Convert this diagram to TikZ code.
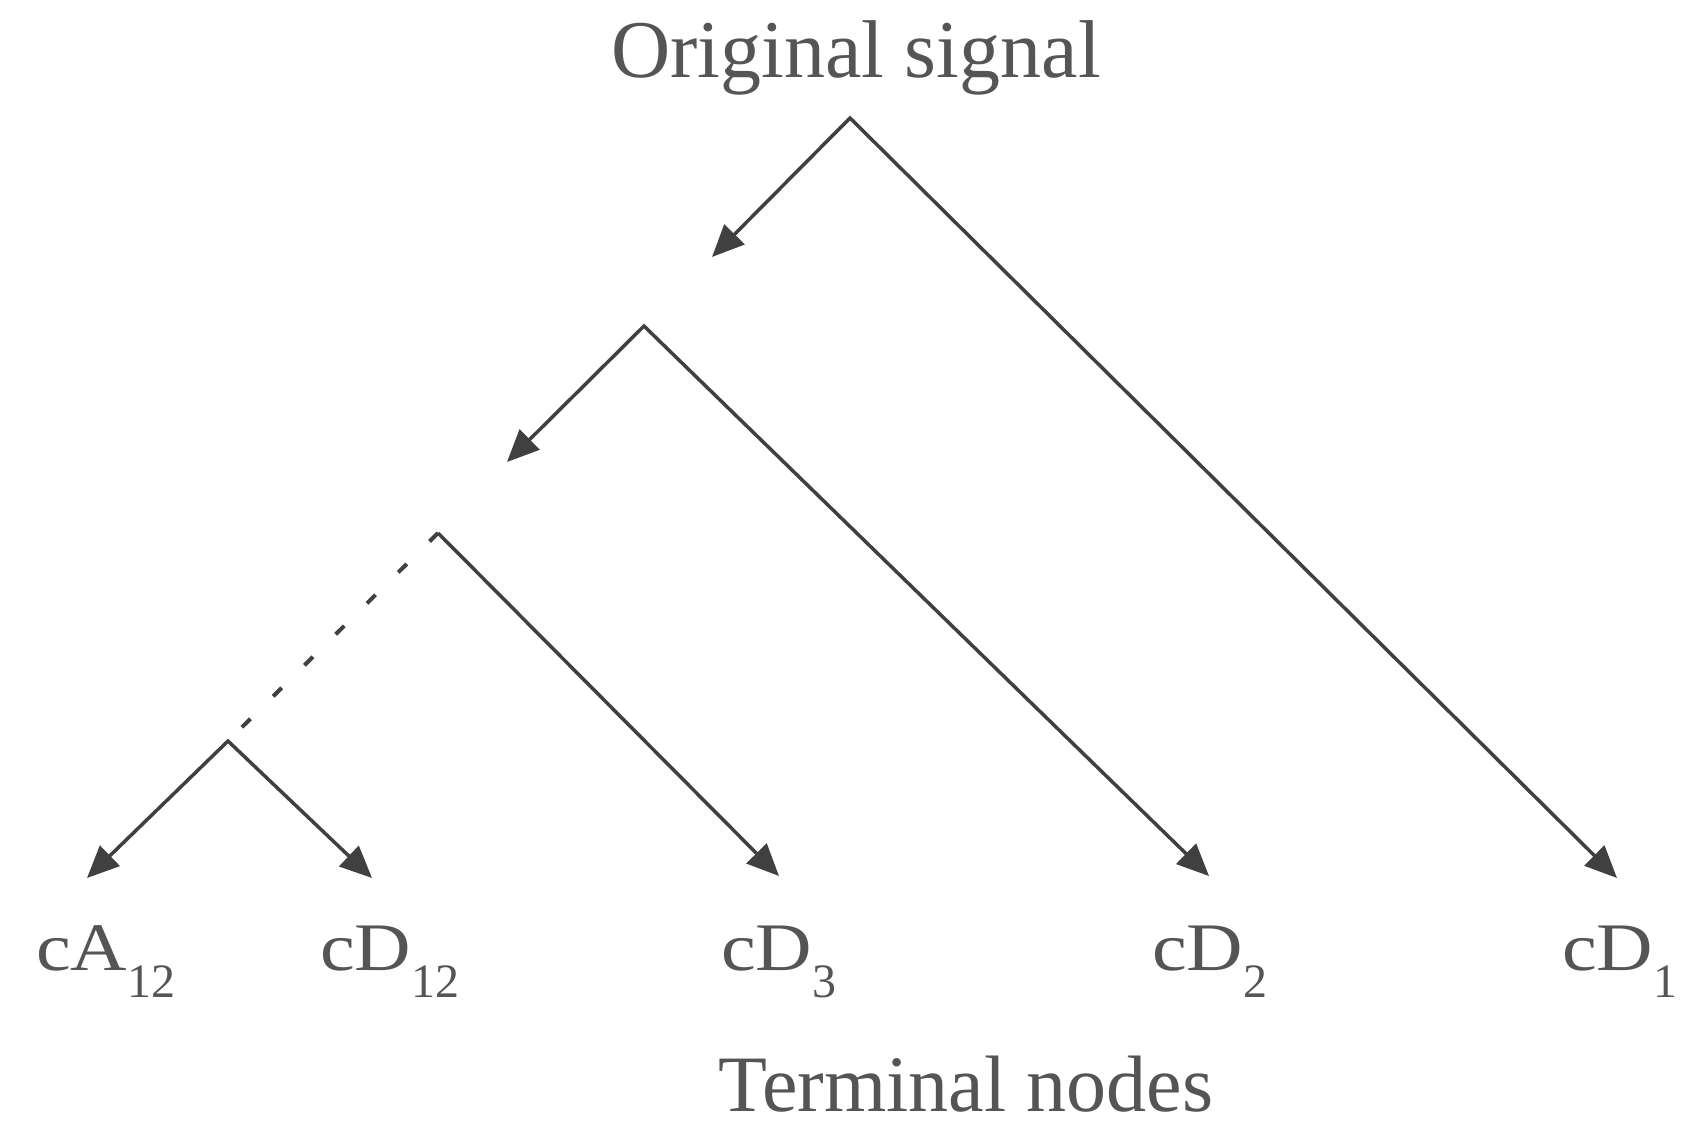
\documentclass[tikz,border=0pt]{standalone}
\usepackage{fontspec}
\setmainfont{Liberation Serif}
\newfontfamily\widefont[FakeStretch=1.15]{Liberation Serif}
\usetikzlibrary{arrows.meta}
\definecolor{inkgray}{HTML}{404040}
\definecolor{textgray}{HTML}{555555}
\newcommand{\lowsub}[1]{\raisebox{-27pt}{\normalfont\fontsize{48}{48}\selectfont #1}}

\begin{document}
\begin{tikzpicture}[x=1pt,y=-1pt,>={Triangle[length=32pt,width=28pt]}]
  \tikzstyle{branch}=[draw=inkgray,line width=3.5pt,line join=miter]
  \tikzstyle{leaf}=[anchor=base west,inner sep=0pt,text=textgray,font=\widefont\fontsize{68}{68}\selectfont]
  \tikzstyle{caption}=[anchor=base,inner sep=0pt,text=textgray]
  \useasboundingbox (0,0) rectangle (1692,1125);
  % apices and arrow tips
  \coordinate (a1) at (850,118);
  \coordinate (a2) at (644,326);
  \coordinate (a3) at (438,533);
  \coordinate (a4) at (228,741);
  \coordinate (t1) at (712,257);
  \coordinate (t2) at (507,462);
  \coordinate (tA12) at (87,878);
  \coordinate (tD12) at (372,878);
  \coordinate (tD3) at (779,876);
  \coordinate (tD2) at (1209,876);
  \coordinate (tD1) at (1617,878);
  % texts
  \node[caption,font=\fontsize{82}{82}\selectfont] (orig) at (856,77) {Original signal};
  \node[caption,font=\fontsize{80}{80}\selectfont] (term) at (966,1111) {Terminal nodes};
  \node[leaf] (cA12) at (36,970) {cA\lowsub{12}};
  \node[leaf] (cD12) at (320,970) {cD\lowsub{12}};
  \node[leaf] (cD3) at (721,970) {cD\lowsub{3}};
  \node[leaf] (cD2) at (1152,970) {cD\lowsub{2}};
  \node[leaf] (cD1) at (1562,970) {cD\lowsub{1}};
  % tree
  \draw[branch,<->] (t1) -- (a1) -- (tD1);
  \draw[branch,<->] (t2) -- (a2) -- (tD2);
  \draw[branch,->] (a3) -- (tD3);
  \draw[branch,dash pattern=on 12pt off 32pt,line width=4pt] (a3) -- (a4);
  \draw[branch,<->] (tA12) -- (a4) -- (tD12);
\end{tikzpicture}
\end{document}
